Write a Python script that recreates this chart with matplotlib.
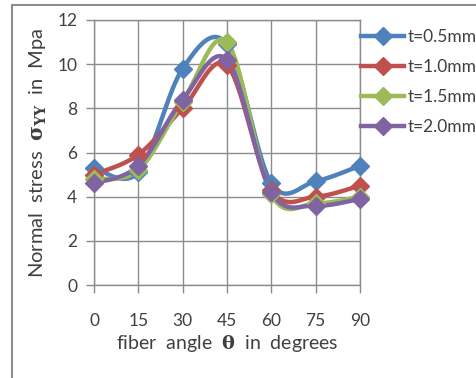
import numpy as np
import matplotlib
matplotlib.use("Agg")
import matplotlib.pyplot as plt
from matplotlib.patches import Rectangle
from matplotlib.lines import Line2D

angles = [0, 15, 30, 45, 60, 75, 90]
series_labels = ["t=0.5mm", "t=1.0mm", "t=1.5mm", "t=2.0mm"]
s05 = [5.3, 5.1, 9.8, 10.9, 4.6, 4.7, 5.4]
s10 = [5.0, 5.9, 8.0, 9.95, 4.3, 4.0, 4.5]
s15 = [4.8, 5.2, 8.3, 11.0, 4.1, 3.7, 4.0]
s20 = [4.6, 5.4, 8.4, 10.2, 4.2, 3.6, 3.9]
series = [s05, s10, s15, s20]
colors = ["#4F81BD", "#C0504D", "#9BBB59", "#8064A2"]
yticks = [0, 2, 4, 6, 8, 10, 12]

plt.rcParams['font.family'] = ['Lato', 'DejaVu Sans']
plt.rcParams['mathtext.fontset'] = 'dejavuserif'
txt = "#404040"
gridc = "#8c8c8c"


def smooth(x, y, n=40):
    x = np.asarray(x, float)
    y = np.asarray(y, float)
    xs, ys = [], []
    m = len(x)
    for i in range(m - 1):
        p0 = (x[i - 1], y[i - 1]) if i > 0 else (x[i], y[i])
        p1 = (x[i], y[i])
        p2 = (x[i + 1], y[i + 1])
        p3 = (x[i + 2], y[i + 2]) if i + 2 < m else (x[i + 1], y[i + 1])
        c1 = (p1[0] + (p2[0] - p0[0]) / 6, p1[1] + (p2[1] - p0[1]) / 6)
        c2 = (p2[0] - (p3[0] - p1[0]) / 6, p2[1] - (p3[1] - p1[1]) / 6)
        t = np.linspace(0, 1, n)
        bx = (1 - t) ** 3 * p1[0] + 3 * (1 - t) ** 2 * t * c1[0] + 3 * (1 - t) * t ** 2 * c2[0] + t ** 3 * p2[0]
        by = (1 - t) ** 3 * p1[1] + 3 * (1 - t) ** 2 * t * c1[1] + 3 * (1 - t) * t ** 2 * c2[1] + t ** 3 * p2[1]
        xs.extend(bx)
        ys.extend(by)
    return np.array(xs), np.array(ys)


fig = plt.figure(figsize=(4.76, 3.78), dpi=100)
fig.patches.append(Rectangle((12 / 476, -0.2), 1.2, 1 - 5 / 378 + 0.2, transform=fig.transFigure,
                             fill=False, edgecolor="#8c8c8c", linewidth=1.5))
ax = fig.add_axes([94 / 476, 1 - 285 / 378, (360 - 94) / 476, (285 - 20) / 378])
ax.set_xlim(0, 90)
ax.set_ylim(0, 12)
ax.set_xticks(angles)
ax.set_yticks(yticks)
ax.grid(True, color=gridc, linewidth=1.0)
ax.set_axisbelow(True)
for s in ax.spines.values():
    s.set_color(gridc)
    s.set_linewidth(1.0)
ax.tick_params(axis='both', colors=gridc, labelcolor=txt, labelsize=12.5, length=6, width=1.0)
ax.tick_params(axis='x', pad=14)
ax.tick_params(axis='y', pad=6)

handles = []
for vals, c, lab in zip(series, colors, series_labels):
    sx, sy = smooth(angles, vals)
    ax.plot(sx, sy, color=c, linewidth=3.2, solid_capstyle='round', zorder=3)
    ax.plot(angles, vals, linestyle='none', marker='D', markersize=9.5, color=c, zorder=4, clip_on=False)
    handles.append(Line2D([], [], color=c, linewidth=3.2, marker='D', markersize=9.5))

ax.set_xlabel(r"fiber  angle  $\mathbf{\theta}$  in  degrees", color=txt, fontsize=14, labelpad=3)
ax.set_ylabel(r"Normal  stress  $\mathbf{\sigma_{YY}}$  in  Mpa", color=txt, fontsize=14.5, labelpad=6)

leg = fig.legend(handles=handles, labels=series_labels, loc='upper left',
                 bbox_to_anchor=(361 / 476, 1 - 29 / 378), frameon=False,
                 fontsize=12.5, handlelength=2.5, handletextpad=0.2, labelspacing=0.8,
                 borderaxespad=0, borderpad=0)
for t in leg.get_texts():
    t.set_color(txt)

fig.savefig("out.png", dpi=100, facecolor="white")
